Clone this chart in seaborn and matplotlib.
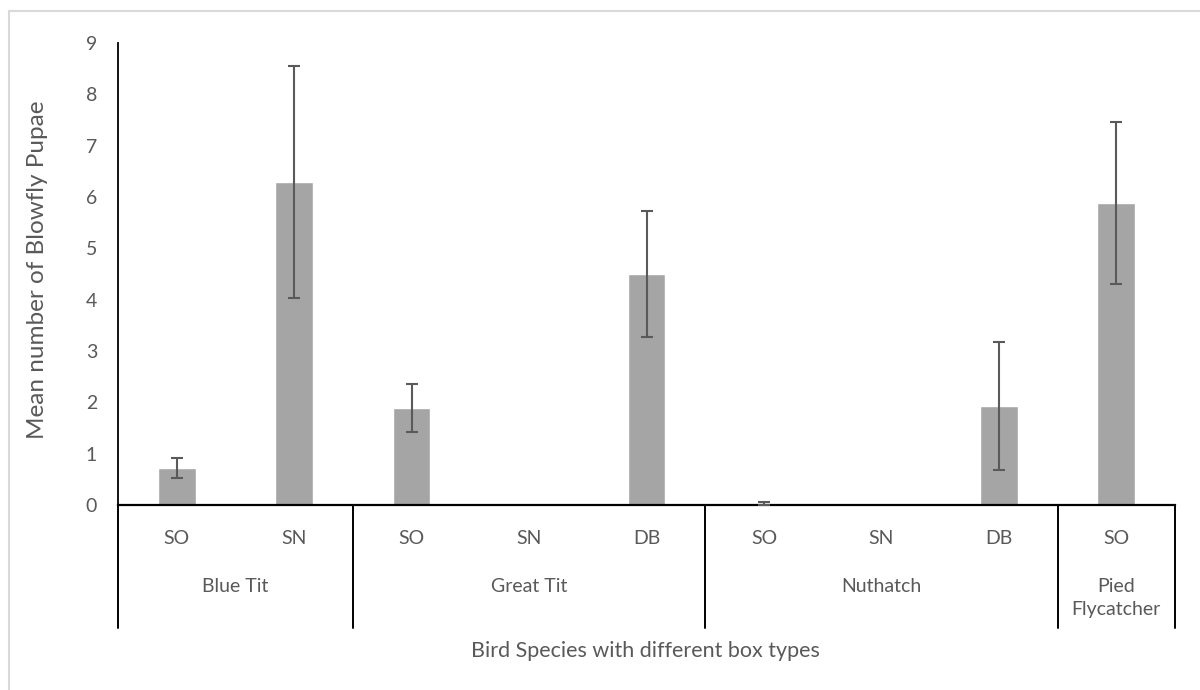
import matplotlib
matplotlib.use("Agg")
import matplotlib.pyplot as plt
from matplotlib.lines import Line2D
import matplotlib.transforms as mtransforms
import seaborn as sns
import pandas as pd

# Mean blowfly pupae per nest, grouped by bird species and nest box type
species = ["Blue Tit", "Blue Tit", "Great Tit", "Great Tit", "Great Tit",
           "Nuthatch", "Nuthatch", "Nuthatch", "Pied Flycatcher"]
box_types = ["SO", "SN", "SO", "SN", "DB", "SO", "SN", "DB", "SO"]
mean_pupae = [0.72, 6.30, 1.89, 0.0, 4.50, 0.03, 0.0, 1.93, 5.88]
error = [0.20, 2.26, 0.47, 0.0, 1.22, 0.03, 0.0, 1.25, 1.58]
group_labels = ["Blue Tit", "Great Tit", "Nuthatch", "Pied\nFlycatcher"]
group_sizes = [2, 3, 3, 1]
y_ticks = [0, 1, 2, 3, 4, 5, 6, 7, 8, 9]

sns.set_style("white")
plt.rcParams["font.family"] = ["Lato", "DejaVu Sans"]
text_color = "#595959"

df = pd.DataFrame({
    "slot": [f"{s} {b}" for s, b in zip(species, box_types)],
    "species": species,
    "box": box_types,
    "mean": mean_pupae,
})

fig = plt.figure(figsize=(12, 6.9), dpi=100)
ax = fig.add_axes([118 / 1200, 1 - 505 / 690, (1175 - 118) / 1200, (505 - 43) / 690])

sns.barplot(data=df, x="slot", y="mean", color="#A5A5A5", width=0.32,
            saturation=1, ax=ax, errorbar=None)

# Error bars only where a value was recorded
err_x = [i for i, e in enumerate(error) if e > 0]
err_y = [mean_pupae[i] for i in err_x]
err_e = [error[i] for i in err_x]
ax.errorbar(err_x, err_y, yerr=err_e, fmt="none",
            ecolor="#5A5A5A", elinewidth=1.5, capsize=4.5, capthick=1.5, zorder=3)

ax.set_xlim(-0.5, len(df) - 0.5)
ax.set_ylim(0, 9)
ax.set_yticks(y_ticks)
ax.set_yticklabels([str(t) for t in y_ticks])
ax.tick_params(axis="y", length=0, pad=15, labelsize=14, labelcolor=text_color)
ax.set_xticks([])
ax.set_xlabel("")
ax.set_ylabel("Mean number of Blowfly Pupae", fontsize=17.5, color=text_color)
ax.yaxis.set_label_coords((48 - 118) / 1057, 0.51)

for side in ["top", "right"]:
    ax.spines[side].set_visible(False)
ax.spines["left"].set_color("black")
ax.spines["left"].set_linewidth(1.3)
ax.spines["bottom"].set_color("black")
ax.spines["bottom"].set_linewidth(1.6)

# Two-level category axis drawn under the plot
trans = mtransforms.blended_transform_factory(ax.transData, ax.transAxes)
sep_bottom = -(628 - 505) / 462
boundaries = [-0.5]
acc = -0.5
for n in group_sizes:
    acc += n
    boundaries.append(acc)
for b in boundaries:
    ax.add_line(Line2D([b, b], [0, sep_bottom], transform=trans, color="black",
                       lw=1.4, clip_on=False))

box_y = -(538 - 505) / 462
for i, b in enumerate(box_types):
    ax.text(i, box_y, b, transform=trans, ha="center", va="center",
            fontsize=14, color=text_color)

group_top = -(578 - 505) / 462
start = 0
for label, n in zip(group_labels, group_sizes):
    center = start + (n - 1) / 2
    ax.text(center, group_top, label, transform=trans, ha="center",
            va="top", fontsize=14, color=text_color, linespacing=1.45)
    start += n

fig.text(645 / 1200, 1 - 651 / 690, "Bird Species with different box types",
         ha="center", va="center", fontsize=15.5, color=text_color)

# Light frame around the chart area
fig.add_artist(Line2D([8.5 / 1200, 8.5 / 1200], [0, 1 - 11 / 690],
                      transform=fig.transFigure, color="#D9D9D9", lw=1.5))
fig.add_artist(Line2D([8.5 / 1200, 1], [1 - 11 / 690, 1 - 11 / 690],
                      transform=fig.transFigure, color="#D9D9D9", lw=1.5))

fig.savefig("out.png", dpi=100)
